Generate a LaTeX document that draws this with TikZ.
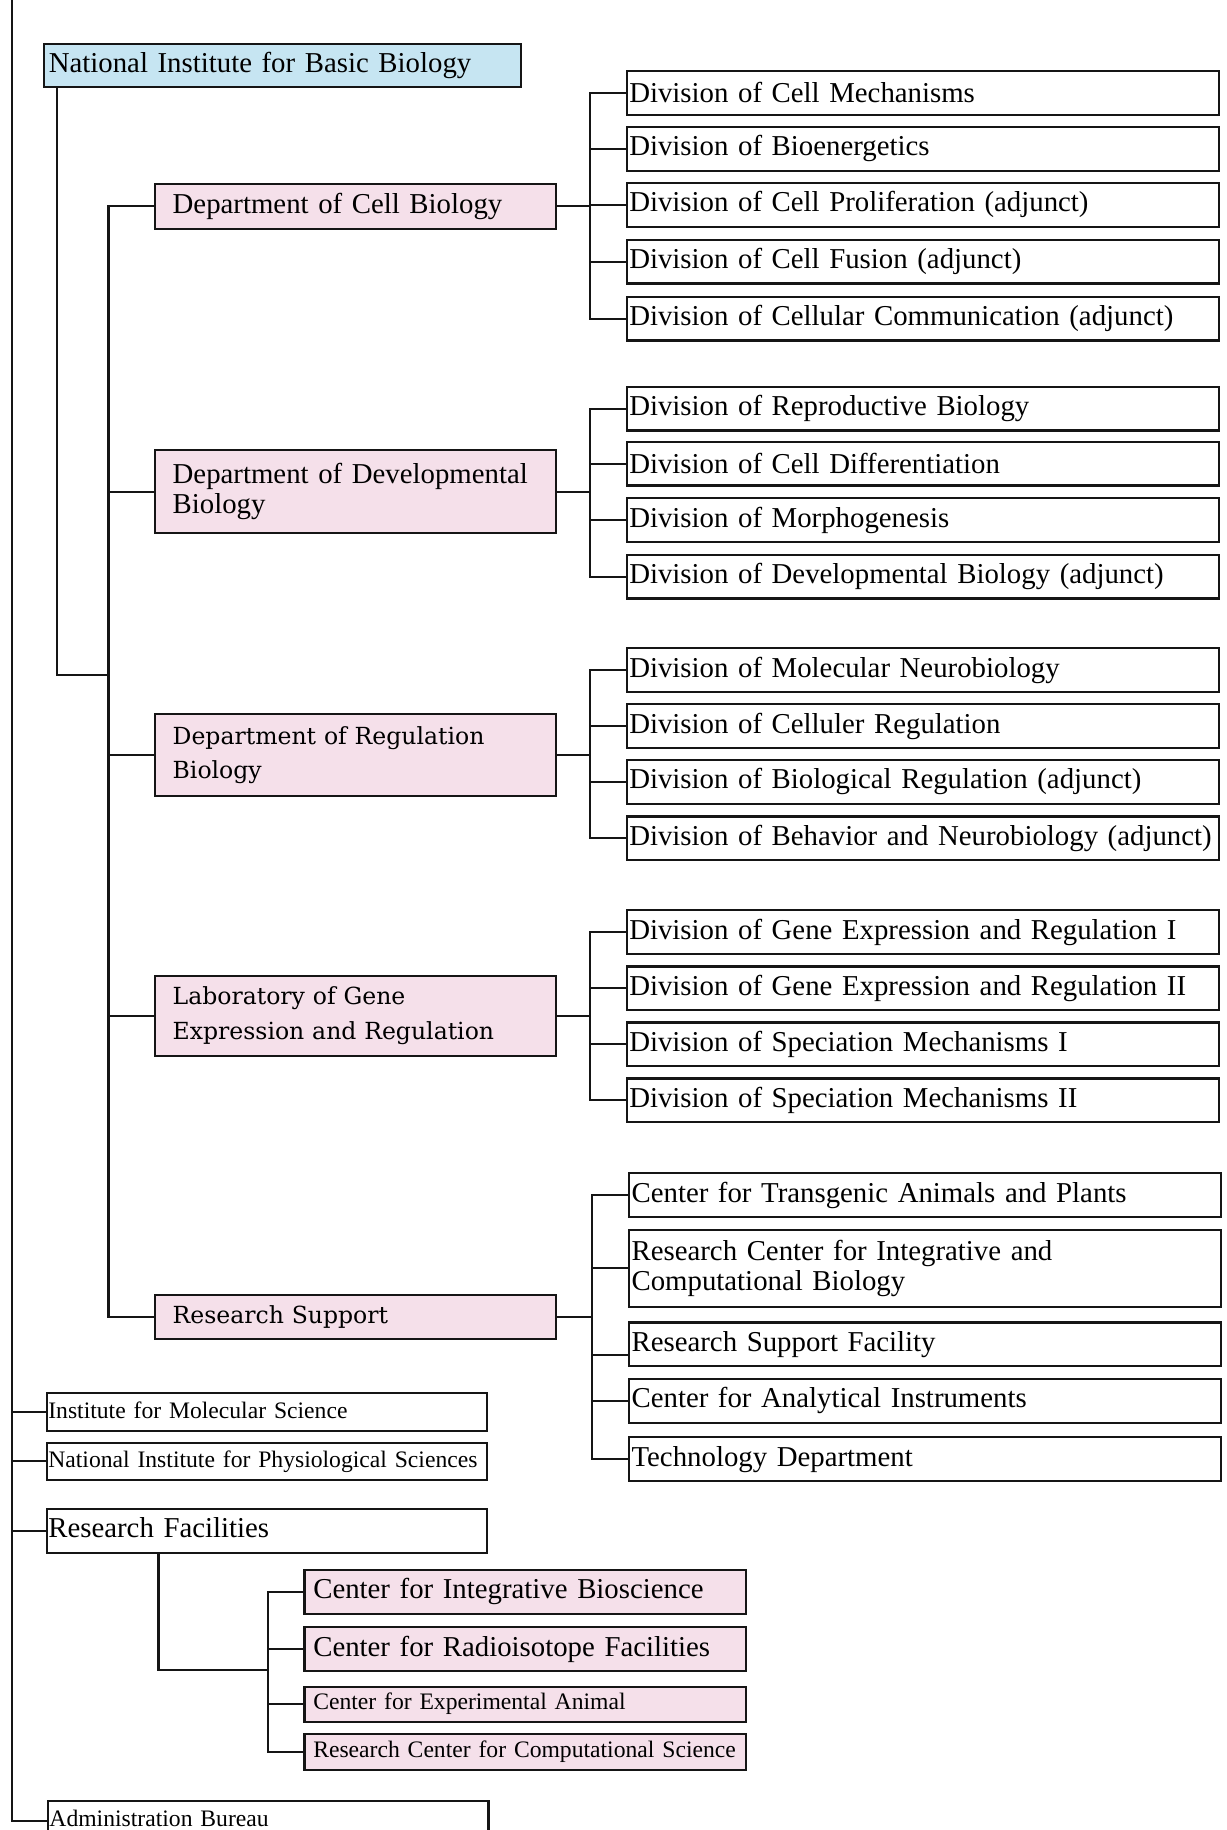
\documentclass[tikz,border=0pt]{standalone}
\usepackage{fontspec}
\setmainfont{Liberation Serif}
\newfontfamily\centfont{DejaVu Serif}
\usepackage{tikz}

\definecolor{nibbblue}{HTML}{C6E5F2}
\definecolor{deptpink}{HTML}{F5E0EA}
\definecolor{inkgray}{HTML}{151515}

\newcommand{\bigtxt}{\fontsize{16.4}{17.4}\selectfont\hyphenpenalty=10000}
\newcommand{\smalltxt}{\fontsize{13.45}{15}\selectfont\hyphenpenalty=10000}
\newcommand{\centtxt}{\centfont\fontsize{13.4}{19.5}\selectfont\hyphenpenalty=10000}

\begin{document}
\begin{tikzpicture}[x=0.2335mm, y=-0.2335mm, line width=1.2pt, draw=inkgray,
  box/.style = {draw=inkgray, line width=1.2pt, anchor=north west, inner ysep=0pt, align=left},
  top/.style = {box, fill=nibbblue, inner xsep=2.6pt, text width=266pt, minimum height=24.2pt, font=\bigtxt},
  dept/.style = {box, fill=deptpink, inner xsep=10pt, text width=208.4pt, font=\bigtxt},
  div/.style = {box, fill=white, inner xsep=1.5pt, text width=334pt, minimum height=24.8pt, font=\bigtxt},
  inst/.style = {box, fill=white, inner xsep=1pt, text width=248.9pt, text height=9.5pt, text depth=3pt, font=\smalltxt},
  fac/.style = {box, fill=deptpink, inner xsep=5pt, text width=241.5pt, font=\bigtxt}]

\path[fill=white, use as bounding box] (0,0) rectangle (1051,1568);

\node[top] (nibb) at (37,37) {National Institute for Basic Biology};

% departments
\node[dept, minimum height=25.2pt] (cell) at (132,157) {Department of Cell Biology};
\node[dept, minimum height=47pt] (dev) at (132,385) {Department of Developmental\\Biology};
\node[dept, minimum height=46.7pt, font=\centtxt] (reg) at (132,611) {Department of Regulation\\Biology};
\node[dept, minimum height=45.7pt, font=\centtxt] (lge) at (132,835) {Laboratory of Gene\\Expression and Regulation};
\node[dept, minimum height=25.2pt, font=\centtxt] (rsup) at (132,1108.5) {Research Support};

% divisions
\node[div] (cellmech) at (536,60) {Division of Cell Mechanisms};
\node[div] (bioen) at (536,108) {Division of Bioenergetics};
\node[div] (prolif) at (536,156) {Division of Cell Proliferation (adjunct)};
\node[div] (fusion) at (536,204.7) {Division of Cell Fusion (adjunct)};
\node[div] (comm) at (536,253.5) {Division of Cellular Communication (adjunct)};

\node[div] (repro) at (536,330.6) {Division of Reproductive Biology};
\node[div] (diff) at (536,377.8) {Division of Cell Differentiation};
\node[div] (morph) at (536,426) {Division of Morphogenesis};
\node[div] (devbio) at (536,474.6) {Division of Developmental Biology (adjunct)};

\node[div] (molneuro) at (536,554.5) {Division of Molecular Neurobiology};
\node[div] (cellreg) at (536,602.5) {Division of Celluler Regulation};
\node[div] (bioreg) at (536,650.4) {Division of Biological Regulation (adjunct)};
\node[div] (behav) at (536,698.7) {Division of Behavior and Neurobiology (adjunct)};

\node[div] (gene1) at (536,779) {Division of Gene Expression and Regulation I};
\node[div] (gene2) at (536,827.2) {Division of Gene Expression and Regulation II};
\node[div] (spec1) at (536,875.2) {Division of Speciation Mechanisms I};
\node[div] (spec2) at (536,923.2) {Division of Speciation Mechanisms II};

\node[div] (transg) at (538,1004.5) {Center for Transgenic Animals and Plants};
\node[div, minimum height=44pt] (rcicb) at (538,1052.8) {Research Center for Integrative and\\Computational Biology};
\node[div] (rsf) at (538,1132.2) {Research Support Facility};
\node[div] (anal) at (538,1180.7) {Center for Analytical Instruments};
\node[div] (tech) at (538,1230.7) {Technology Department};

% other institutes
\node[inst, minimum height=21.5pt] (ims) at (39,1193) {Institute for Molecular Science};
\node[inst, minimum height=20.9pt] (nips) at (39,1235.5) {National Institute for Physiological Sciences};
\node[inst, minimum height=25pt, font=\bigtxt, text height=11.5pt, text depth=3.5pt] (rfac) at (39,1292) {Research Facilities};
\node[inst, minimum height=22.5pt] (admin) at (40,1542.5) {Administration Bureau};

\node[fac, minimum height=25.2pt] (cib) at (260,1344) {Center for Integrative Bioscience};
\node[fac, minimum height=25pt] (crf) at (260,1393.4) {Center for Radioisotope Facilities};
\node[fac, minimum height=19.9pt, font=\smalltxt] (cea) at (260,1444.3) {Center for Experimental Animal};
\node[fac, minimum height=20.5pt, font=\smalltxt] (rccs) at (260,1484.8) {Research Center for Computational Science};

% trunk
\coordinate (trunk) at (10,0);
\draw (trunk) |- (admin.west);
\foreach \n in {ims,nips,rfac}
  \draw (\n.west) -- (\n.west -| trunk);

% NIBB to departments
\coordinate (hub) at (93,578);
\draw ([xshift=2.8mm]nibb.south west) |- (hub);
\draw (cell.west) -| (hub) |- (rsup.west);
\foreach \n in {dev,reg,lge}
  \draw (\n.west) -- (\n.west -| hub);

% departments to divisions
\coordinate (cellbus) at ([xshift=6.5mm]cell.east);
\draw (cell.east) -- (cellbus);
\draw (cellmech.west) -| (cellbus) |- (comm.west);
\foreach \n in {bioen,prolif,fusion}
  \draw (\n.west) -- (\n.west -| cellbus);

\coordinate (devbus) at ([xshift=6.5mm]dev.east);
\draw (dev.east) -- (devbus);
\draw (repro.west) -| (devbus) |- (devbio.west);
\foreach \n in {diff,morph}
  \draw (\n.west) -- (\n.west -| devbus);

\coordinate (regbus) at ([xshift=6.5mm]reg.east);
\draw (reg.east) -- (regbus);
\draw (molneuro.west) -| (regbus) |- (behav.west);
\foreach \n in {cellreg,bioreg}
  \draw (\n.west) -- (\n.west -| regbus);

\coordinate (lgebus) at ([xshift=6.5mm]lge.east);
\draw (lge.east) -- (lgebus);
\draw (gene1.west) -| (lgebus) |- (spec2.west);
\foreach \n in {gene2,spec1}
  \draw (\n.west) -- (\n.west -| lgebus);

\coordinate (rsbus) at ([xshift=7mm]rsup.east);
\draw (rsup.east) -- (rsbus);
\draw (transg.west) -| (rsbus) |- (tech.west);
\draw ([yshift=-2.2mm]rsf.west) -- ([yshift=-2.2mm]rsf.west -| rsbus);
\foreach \n in {rcicb,anal}
  \draw (\n.west) -- (\n.west -| rsbus);

% research facilities
\coordinate (rfhub) at (230,1431);
\draw ([xshift=22.6mm]rfac.south west) |- (rfhub);
\draw (cib.west) -| (rfhub) |- (rccs.west);
\foreach \n in {crf,cea}
  \draw (\n.west) -- (\n.west -| rfhub);

\end{tikzpicture}
\end{document}
